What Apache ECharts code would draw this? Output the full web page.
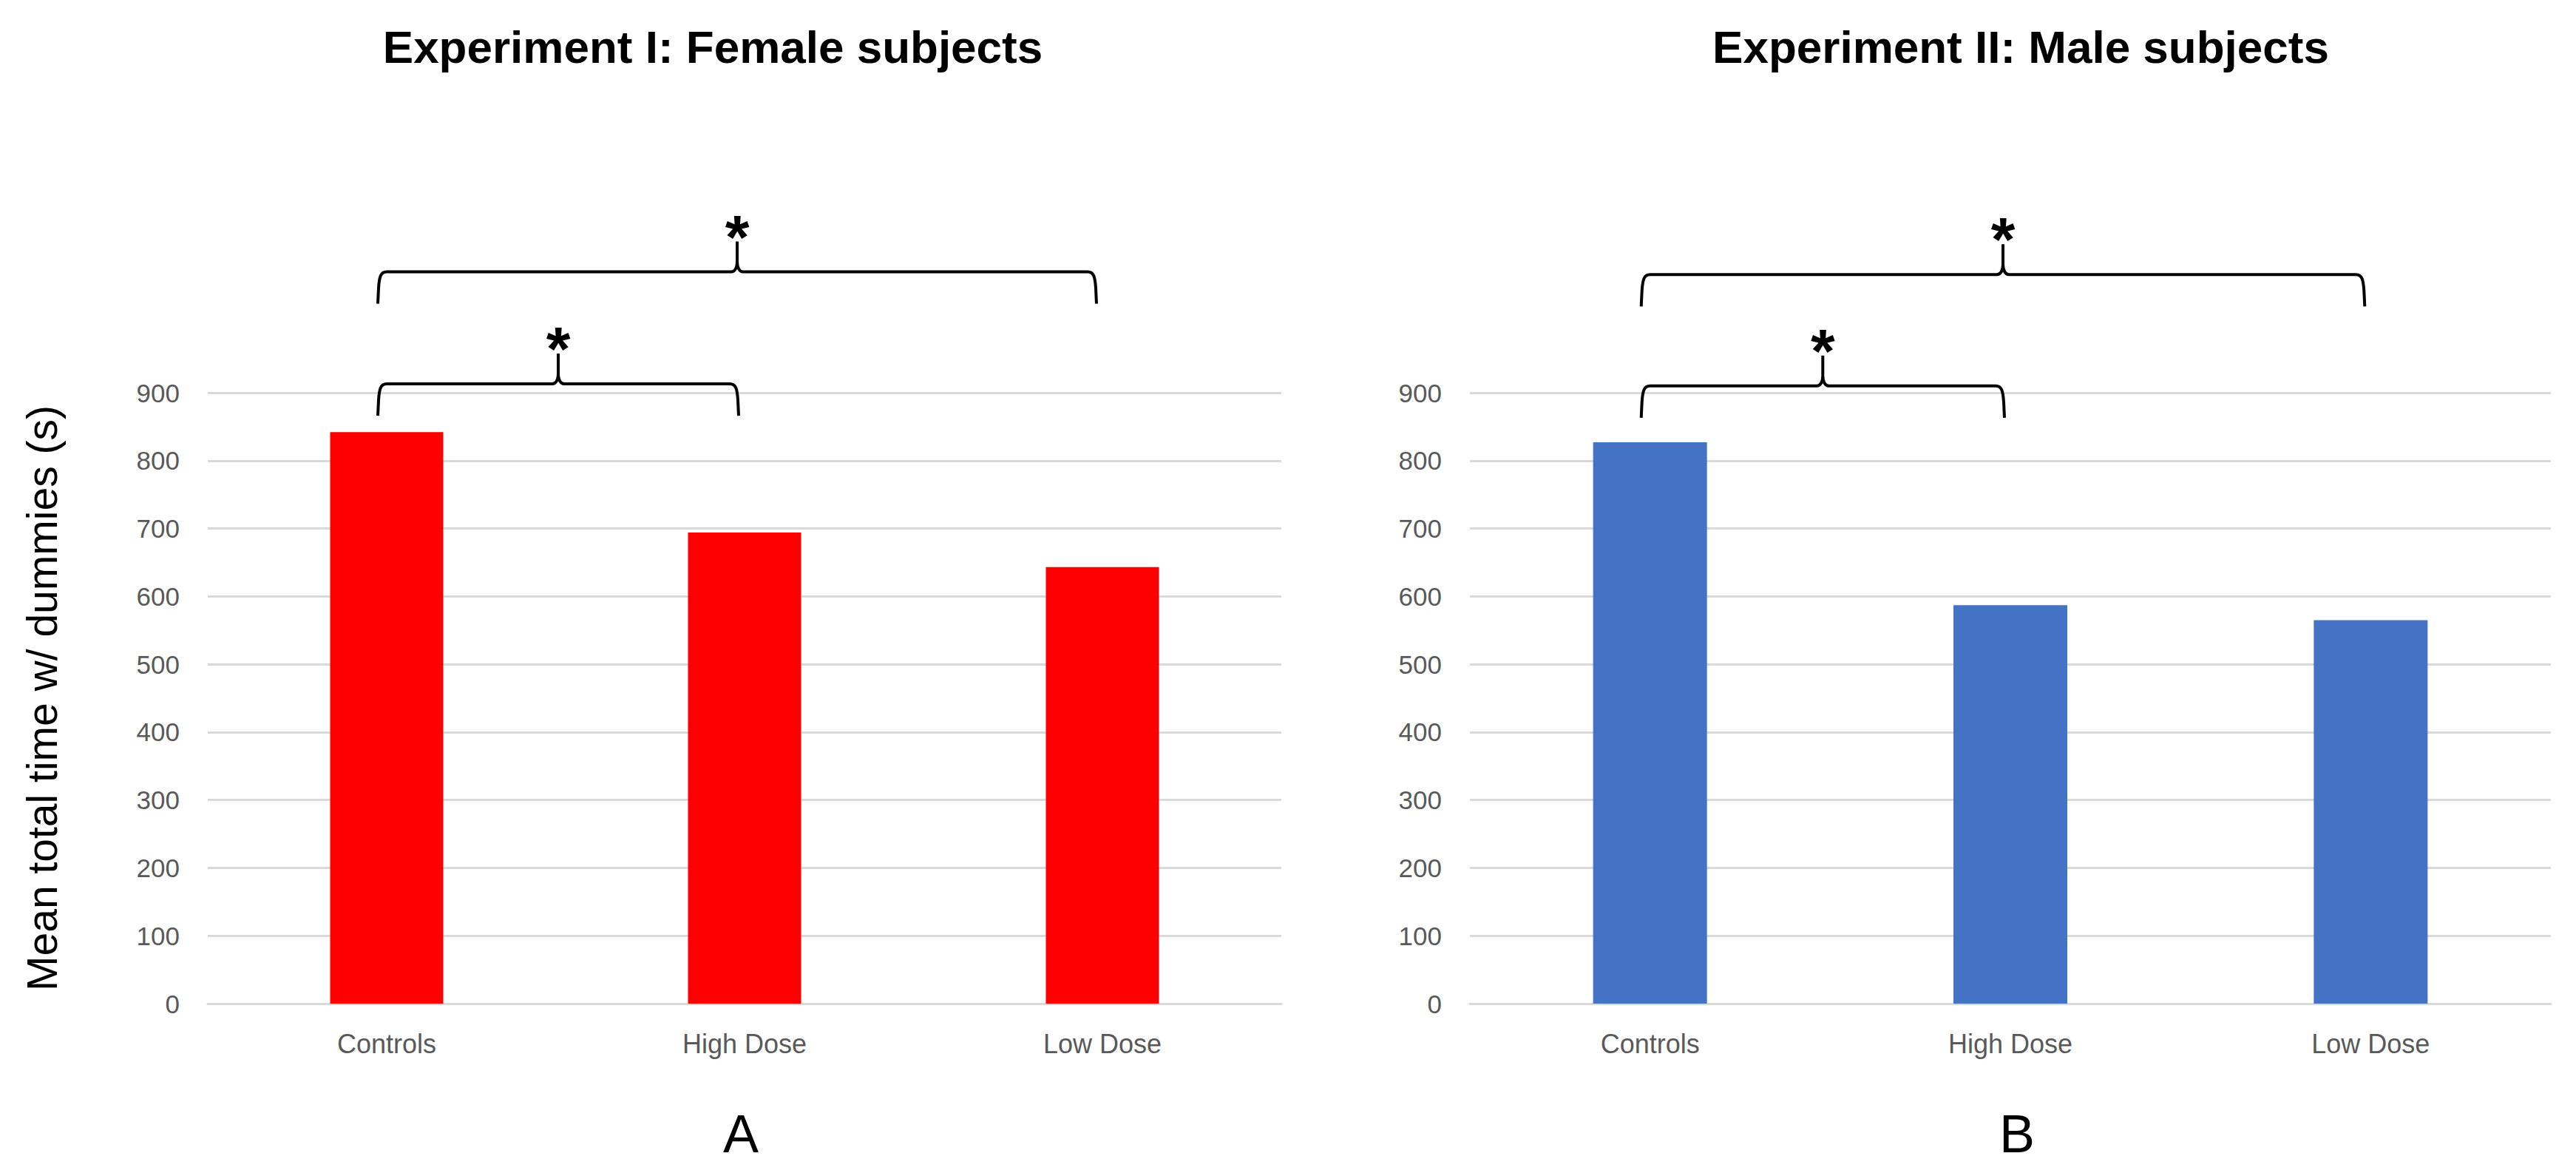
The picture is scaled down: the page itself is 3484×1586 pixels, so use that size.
<!DOCTYPE html>
<html><head><meta charset="utf-8">
<script src="https://cdn.jsdelivr.net/npm/echarts@6/dist/echarts.min.js"></script>
<style>html,body{margin:0;padding:0;background:#fff}#c{width:3484px;height:1586px}</style>
</head><body><div id="c"></div>
<script>
const categories = ['Controls', 'High Dose', 'Low Dose'];
const femaleValues = [842, 694, 643];
const maleValues = [827, 587, 565];
const yMin = 0, yMax = 900, yInterval = 100;
const panelTitles = ['Experiment I: Female subjects', 'Experiment II: Male subjects'];
const panelLetters = ['A', 'B'];
const yAxisTitle = 'Mean total time w/ dummies (s)';
// significance brackets: [fromCategoryIndex, toCategoryIndex, bracket level in seconds]
const femaleBrackets = [[0, 2, 1078], [0, 1, 913]];
const maleBrackets = [[0, 2, 1074], [0, 1, 910]];
const bracketMark = '*';

const FONT = 'Liberation Sans';
const chart = echarts.init(document.getElementById('c'), null, {renderer: 'svg'});

function bracketRender(params, api) {
  const from = api.value(0), to = api.value(1), level = api.value(2);
  const pL = api.coord([from, level]);
  const pR = api.coord([to, level]);
  const xL = pL[0] - 12, xR = pR[0] - 8, y = pL[1];
  const xc = (xL + xR) / 2;
  const drop = 43, rise = 41;
  const P = (x, yy) => x.toFixed(1) + ',' + yy.toFixed(1);
  const d = 'M' + P(xL, y + drop) +
    ' L' + P(xL + 1, y + 22) +
    ' C' + P(xL + 2, y + 6) + ' ' + P(xL + 4, y) + ' ' + P(xL + 12, y) +
    ' L' + P(xc - 8, y) +
    ' C' + P(xc - 3, y) + ' ' + P(xc, y - 6) + ' ' + P(xc, y - 14) +
    ' L' + P(xc, y - rise) +
    ' M' + P(xc, y - 14) +
    ' C' + P(xc, y - 6) + ' ' + P(xc + 3, y) + ' ' + P(xc + 8, y) +
    ' L' + P(xR - 12, y) +
    ' C' + P(xR - 4, y) + ' ' + P(xR - 2, y + 6) + ' ' + P(xR - 1, y + 22) +
    ' L' + P(xR, y + drop);
  return {
    type: 'group',
    children: [
      {type: 'path', shape: {pathData: d}, style: {fill: 'none', stroke: '#000', lineWidth: 4}},
      {type: 'text', x: xc, y: y - 47, style: {text: bracketMark, fill: '#000', fontSize: 84, fontWeight: 'bold', fontFamily: FONT, align: 'center', verticalAlign: 'middle'}}
    ]
  };
}

function makeAxes(i) {
  return {
    x: {
      type: 'category', gridIndex: i, data: categories,
      axisLine: {show: true, lineStyle: {color: '#d9d9d9', width: 3}},
      axisTick: {show: false},
      axisLabel: {fontSize: 36, fontFamily: FONT, color: '#595959', margin: 36}
    },
    y: {
      type: 'value', gridIndex: i, min: yMin, max: yMax, interval: yInterval,
      axisLine: {show: false}, axisTick: {show: false},
      axisLabel: {fontSize: 35, fontFamily: FONT, color: '#595959', margin: 38},
      splitLine: {lineStyle: {color: '#d9d9d9', width: 3}},
      name: i === 0 ? yAxisTitle : '',
      nameLocation: 'middle', nameGap: 196, nameRotate: 90,
      nameTextStyle: {fontSize: 57, fontFamily: FONT, color: '#000'}
    }
  };
}
const a0 = makeAxes(0), a1 = makeAxes(1);

const titleStyle = {fontSize: 62, fontWeight: 'bold', fontFamily: FONT, color: '#000'};
const letterStyle = {fontSize: 72, fontWeight: 'normal', fontFamily: FONT, color: '#000'};

chart.setOption({
  backgroundColor: '#fff',
  animation: false,
  title: [
    {text: panelTitles[0], left: 964, top: 32, textAlign: 'center', padding: 0, textStyle: titleStyle},
    {text: panelTitles[1], left: 2733, top: 32, textAlign: 'center', padding: 0, textStyle: titleStyle},
    {text: panelLetters[0], left: 1002, top: 1497, textAlign: 'center', padding: 0, textStyle: letterStyle},
    {text: panelLetters[1], left: 2728, top: 1497, textAlign: 'center', padding: 0, textStyle: letterStyle}
  ],
  grid: [
    {left: 281, right: 1751, top: 531, bottom: 229},
    {left: 1988, right: 34, top: 531, bottom: 229}
  ],
  xAxis: [a0.x, a1.x],
  yAxis: [a0.y, a1.y],
  series: [
    {type: 'bar', xAxisIndex: 0, yAxisIndex: 0, data: femaleValues, barWidth: '31.6%', itemStyle: {color: '#ff0000'}},
    {type: 'bar', xAxisIndex: 1, yAxisIndex: 1, data: maleValues, barWidth: '31.6%', itemStyle: {color: '#4472c4'}},
    {type: 'custom', xAxisIndex: 0, yAxisIndex: 0, coordinateSystem: 'cartesian2d', clip: false,
     encode: {x: [0, 1], y: 2}, data: femaleBrackets, renderItem: bracketRender, z: 5},
    {type: 'custom', xAxisIndex: 1, yAxisIndex: 1, coordinateSystem: 'cartesian2d', clip: false,
     encode: {x: [0, 1], y: 2}, data: maleBrackets, renderItem: bracketRender, z: 5}
  ]
});
</script></body></html>
